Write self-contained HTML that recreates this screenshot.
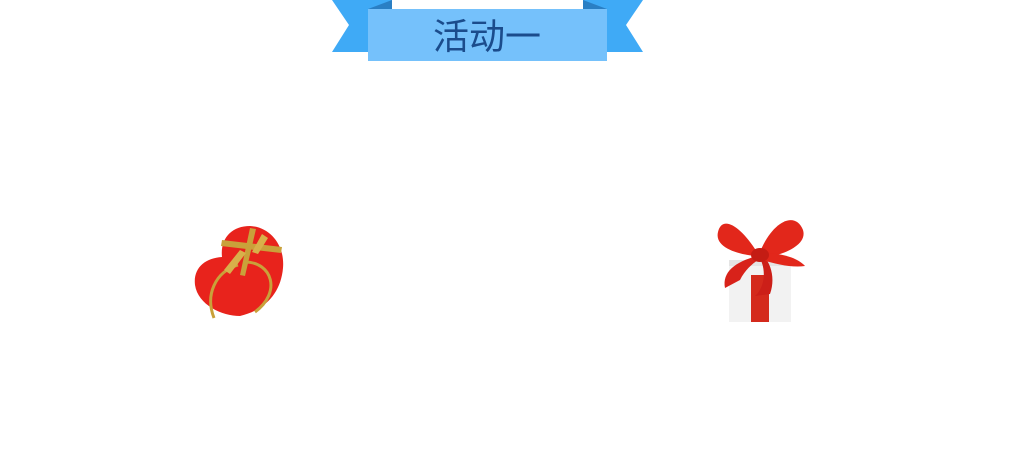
<!DOCTYPE html>
<html><head><meta charset="utf-8"><style>
html,body{margin:0;padding:0;background:#fff;}
#wrap{position:relative;width:1018px;height:459px;overflow:hidden;}
</style></head><body>
<div id="wrap">
<svg width="1018" height="459" viewBox="0 0 1018 459">
  <g>
    <polygon points="332,0 392,0 392,52 332,52 349,25" fill="#3faaf6"/>
    <polygon points="583,0 643,0 626,25 643,52 583,52" fill="#3faaf6"/>
    <polygon points="368,9 392,0 392,9" fill="#2a7fc4"/>
    <polygon points="583,0 607,9 583,9" fill="#2a7fc4"/>
    <rect x="368" y="9" width="239" height="52" fill="#75c1fb"/>
    <text x="487" y="49" text-anchor="middle" font-size="36" fill="#1b4c8c" font-family="'Liberation Sans','Noto Sans CJK SC',sans-serif">活动一</text>
  </g>
  <g>
    <path d="M240,316 C222,316 198,305 195,285 C193,268 205,258 222,257 C220,238 232,226 250,226 C270,227 285,245 283,268 C281,292 266,310 240,316 Z" fill="#e8231c"/>
    <path d="M222,240 L282,247 L281,253 L221,246 Z" fill="#c9a13a"/>
    <path d="M250,228 L240,275 L245,276 L256,229 Z" fill="#c9a13a"/>
    <path d="M238,265 C215,272 205,295 214,318" stroke="#c9a13a" stroke-width="3" fill="none"/>
    <path d="M245,262 C272,262 282,292 255,312" stroke="#c9a13a" stroke-width="3" fill="none"/>
    <path d="M240,250 L224,270 L230,274 L246,253 Z" fill="#d8b04a"/>
    <path d="M262,234 L252,252 L258,254 L268,238 Z" fill="#d8b04a"/>
  </g>
  <g>
    <rect x="729" y="260" width="62" height="62" fill="#f2f2f2"/>
    <rect x="729" y="260" width="62" height="6" fill="#e4e4e4"/>
    <rect x="751" y="275" width="18" height="47" fill="#d42a1c"/>
    <path d="M757,252 C740,225 722,215 718,232 C714,248 740,255 757,256 Z" fill="#e2271b"/>
    <path d="M760,252 C772,222 795,210 803,230 C808,246 780,256 762,258 Z" fill="#e2271b"/>
    <path d="M757,256 C735,262 722,272 725,288 L740,280 C745,270 752,264 758,260 Z" fill="#d8221a"/>
    <path d="M760,258 C768,275 762,290 755,296 L770,294 C775,280 772,266 764,256 Z" fill="#cc1f18"/>
    <path d="M762,254 C780,252 798,258 805,266 C792,268 776,264 762,260 Z" fill="#e2271b"/>
    <ellipse cx="760" cy="255" rx="9" ry="7" fill="#c41c14"/>
  </g>
</svg>
</div>
</body></html>
